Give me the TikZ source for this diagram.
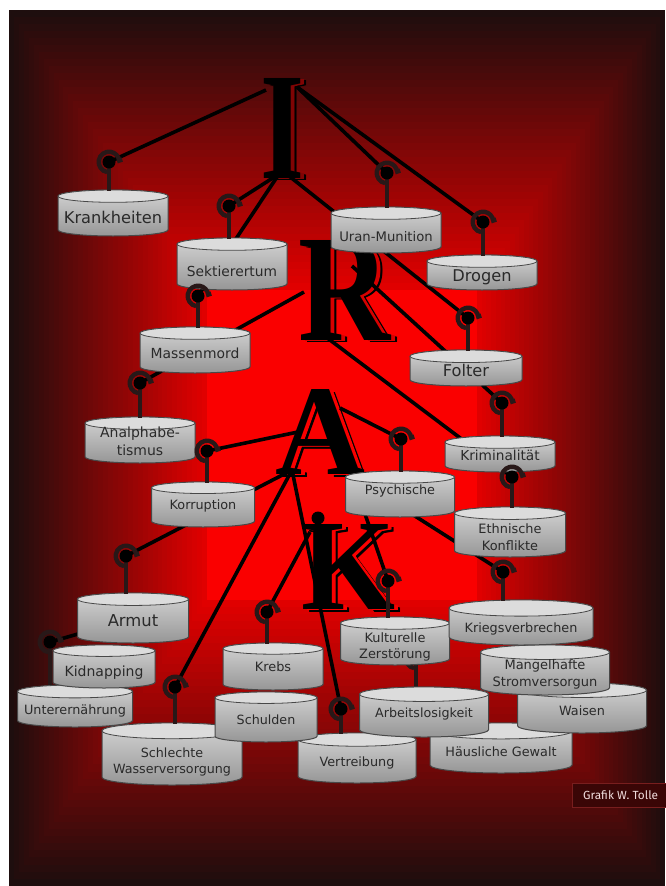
\documentclass[tikz,border=0pt]{standalone}
\usepackage{fontspec}
\setmainfont{DejaVu Sans}
\newfontfamily\letterfont{Liberation Serif}
\newfontfamily\creditfont{Fira Sans}
\usepackage{graphicx}
\usetikzlibrary{fadings}
\pgfdeclarefading{fadeI}{\color{pgftransparent!0}\resizebox{44pt}{100pt}{\letterfont\bfseries I}}
\pgfdeclarefading{fadeR}{\color{pgftransparent!0}\resizebox{92pt}{100pt}{\letterfont\bfseries R}}
\pgfdeclarefading{fadeA}{\color{pgftransparent!0}\resizebox{90pt}{85pt}{\letterfont\bfseries A}}
\pgfdeclarefading{fadeK}{\color{pgftransparent!0}\resizebox{94pt}{85pt}{\letterfont\bfseries K}}
\definecolor{knobdark}{RGB}{40,24,24}
\definecolor{cyledge}{RGB}{72,72,72}
\definecolor{cyltxt}{RGB}{42,42,42}
\definecolor{cyltopc}{RGB}{212,212,212}
\definecolor{cylbotc}{RGB}{150,150,150}
\definecolor{cyllid}{RGB}{220,220,220}
\definecolor{centerred}{RGB}{250,0,0}
\definecolor{shadowI}{RGB}{128,4,4}
\definecolor{shadowR}{RGB}{215,0,0}
\definecolor{shadowA}{RGB}{250,0,0}
\definecolor{creditfill}{RGB}{58,6,6}
\definecolor{creditedge}{RGB}{120,30,30}
\definecolor{credittext}{RGB}{240,220,220}
\tikzset{
  conn/.style={line width=3.6pt, draw=black},
  knobstem/.style={line width=4.6pt, draw=knobdark},
  knobring/.style={line width=4.4pt, draw=knobdark},
  cylbody/.style={top color=cyltopc, bottom color=cylbotc, draw=cyledge, line width=1pt},
  cyltop/.style={fill=cyllid, draw=cyledge, line width=0.8pt},
  cyltext/.style={text=cyltxt, align=center, inner sep=0pt},
  credit/.style={text=credittext, font=\creditfont\fontsize{11.8}{13}\selectfont, inner sep=0pt, anchor=west},
  creditbox/.style={fill=creditfill, draw=creditedge, line width=0.8pt}
}
\newcommand\cyl[8]{%
  \pgfmathsetmacro\cylxa{#2-#5/2}%
  \pgfmathsetmacro\cylxb{#2+#5/2}%
  \pgfmathsetmacro\cylrx{#5/2}%
  \pgfmathsetmacro\cylry{0.056*#5}%
  \pgfmathsetmacro\cylya{#3+\cylry}%
  \pgfmathsetmacro\cylyb{#4-\cylry}%
  \pgfmathsetmacro\cylty{(#3+2*\cylry+#4)/2+#8}%
  \pgfmathsetmacro\cylbs{#6*1.28}%
  \path[cylbody] (\cylxa,\cylya) -- (\cylxa,\cylyb) arc[start angle=180,end angle=0,x radius=\cylrx,y radius=\cylry] -- (\cylxb,\cylya) arc[start angle=0,end angle=-180,x radius=\cylrx,y radius=\cylry] -- cycle;
  \path[cyltop] (#2,\cylya) ellipse[x radius=\cylrx,y radius=\cylry];
  \node[cyltext,font=\fontsize{#6}{\cylbs}\selectfont] (#1) at (#2,\cylty) {#7};
}
\newcommand\knob[2]{%
  \draw[knobstem] (#1) -- ++(0,#2);
  \draw[knobring] (#1) ++(100:10.3) arc[start angle=100,end angle=352,radius=10.3] -- ++(3,-1);
  \fill[black] (#1) circle[radius=6.5];
}
% #1 name, #2 cx, #3 cy, #4 w, #5 h, #6 char, #7 shadow colour, #8 fading
\newcommand\bigletter[8]{%
  \fill[fill=black, path fading=#8, fit fading=false, fading transform={shift={(#2+5.5,#3+2.5)}}]
    (#2+5.5-#4/2-2,#3+2.5-#5/2-2) rectangle (#2+5.5+#4/2+2,#3+2.5+#5/2+2);
  \fill[fill=#7, path fading=#8, fit fading=false, fading transform={shift={(#2+4,#3+1.2)}}]
    (#2+4-#4/2-2,#3+1.2-#5/2-2) rectangle (#2+4+#4/2+2,#3+1.2+#5/2+2);
  \node[inner sep=0pt,text=black] (#1) at (#2,#3) {\resizebox{#4pt}{#5pt}{\letterfont\bfseries #6}};
}
\begin{document}
\begin{tikzpicture}[x=1pt,y=-1pt]
\useasboundingbox (0,0) rectangle (665,886);
\fill[white] (0,0) rectangle (665,886);
% background gradient
\foreach \i in {0,...,39}{
  \pgfmathsetmacro\bgt{\i/40}
  \pgfmathsetmacro\bgxa{9+198*\bgt}
  \pgfmathsetmacro\bgya{10+280*\bgt}
  \pgfmathsetmacro\bgxb{665-188*\bgt}
  \pgfmathsetmacro\bgyb{886-286*\bgt}
  \pgfmathtruncatemacro\bgr{2.55*(12+78*\bgt)}
  \pgfmathtruncatemacro\bgg{14*(1-\bgt)}
  \definecolor{bgc}{RGB}{\bgr,\bgg,\bgg}
  \fill[bgc] (\bgxa,\bgya) rectangle (\bgxb,\bgyb);
}
\fill[centerred] (207,290) rectangle (477,600);
% big letters
\bigletter{I}{283}{128}{44}{100}{I}{shadowI}{fadeI}
\bigletter{R}{345}{290}{92}{100}{R}{shadowR}{fadeR}
\bigletter{A}{321}{432}{90}{85}{A}{shadowA}{fadeA}
\bigletter{K}{349}{567}{94}{85}{K}{shadowA}{fadeK}
\fill[black] (318,518) circle[radius=6.5];
% letter anchor points
\coordinate (Itl) at (266,90);
\coordinate (Itr) at (297,87);
\coordinate (Ib) at (279,174);
\coordinate (Ibr) at (289,176);
\coordinate (Rl) at (304,292);
\coordinate (Rb) at (322,334);
\coordinate (Rbowl) at (352,266);
\coordinate (Atr) at (340,408);
\coordinate (Al) at (298,432);
\coordinate (Abl) at (292,470);
\coordinate (Ar) at (352,476);
\coordinate (Ktl) at (310,532);
% knob points
\coordinate (kKrank) at (109,162);
\coordinate (kSekt) at (229,206);
\coordinate (kUran) at (387,173);
\coordinate (kDrog) at (483,222);
\coordinate (kMass) at (198,296);
\coordinate (kFolt) at (468,318);
\coordinate (kAnal) at (140,383);
\coordinate (kKrim) at (502,403);
\coordinate (kKorr) at (207,451);
\coordinate (kPsych) at (401,439);
\coordinate (kEthn) at (512,477);
\coordinate (kArmut) at (126,556);
\coordinate (kKrieg) at (503,572);
\coordinate (kKrebs) at (267,612);
\coordinate (kKult) at (388,581);
\coordinate (kVert) at (341,709);
\coordinate (kSchl) at (175,687);
\coordinate (kHidA) at (50,642);
\coordinate (kHidB) at (416,658);
\coordinate (hidAend) at (120,622);
% connectors
\draw[conn] (Itl) -- (kKrank);
\draw[conn] (Itr) -- (kUran);
\draw[conn] (Itr) -- (kDrog);
\draw[conn] (Ib) -- (kSekt);
\draw[conn] (Ib) -- (kMass);
\draw[conn] (Ibr) -- (kFolt);
\draw[conn] (Rl) -- (kAnal);
\draw[conn] (Rb) -- (kEthn);
\draw[conn] (Rbowl) -- (kKrim);
\draw[conn] (Atr) -- (kPsych);
\draw[conn] (Al) -- (kKorr);
\draw[conn] (Abl) -- (kArmut);
\draw[conn] (Abl) -- (kSchl);
\draw[conn] (Abl) -- (kVert);
\draw[conn] (Ar) -- (kKult);
\draw[conn] (Ar) -- (kKrieg);
\draw[conn] (Ktl) -- (kKrebs);
\draw[conn] (kHidA) -- (hidAend);
% hidden knobs
\knob{kHidA}{48}
\knob{kHidB}{31}
% cylinders (back to front)
\cyl{vert}{357}{733}{783}{118}{12.8}{Vertreibung}{-2}
\cyl{schl}{172}{723}{785}{140}{12.7}{Schlechte\\Wasserversorgung}{0}
\cyl{haeus}{501}{723}{773}{142}{12.8}{Häusliche Gewalt}{-4}
\cyl{schuld}{266}{692}{742}{102}{12.7}{Schulden}{-3}
\cyl{arb}{424}{687}{737}{129}{12.7}{Arbeitslosigkeit}{-5}
\cyl{unter}{75}{685}{727}{115}{12.8}{Unterernährung}{-1}
\cyl{waisen}{582}{683}{733}{129}{12.8}{Waisen}{-5}
\cyl{kidn}{104}{645}{688}{102}{14}{Kidnapping}{0}
\cyl{mang}{545}{645}{695}{129}{13}{Mangelhafte\\Stromversorgun}{-3}
\cyl{krebs}{273}{643}{690}{100}{12.9}{Krebs}{-5}
\cyl{kult}{395}{617}{665}{109}{12.9}{Kulturelle\\Zerstörung}{0}
\cyl{krieg}{521}{600}{645}{144}{12.8}{Kriegsverbrechen}{-2}
\cyl{armut}{133}{593}{643}{111}{16.4}{Armut}{-4}
\cyl{ethn}{510}{507}{557}{111}{12.9}{Ethnische\\Konflikte}{-1}
\cyl{korr}{203}{482}{527}{103}{12.8}{Korruption}{-4}
\cyl{psych}{400}{471}{517}{109}{12.8}{Psychische}{-9}
\cyl{krim}{500}{436}{472}{110}{13.7}{Kriminalität}{-5}
\cyl{anal}{140}{417}{463}{110}{14}{Analphabe-\\tismus}{-5}
\cyl{folt}{466}{350}{386}{112}{16.2}{Folter}{-4}
\cyl{mass}{195}{327}{373}{110}{13.9}{Massenmord}{-3}
\cyl{drog}{482}{255}{290}{110}{16.2}{Drogen}{-1}
\cyl{sekt}{232}{238}{290}{110}{13.8}{Sektierertum}{1}
\cyl{uran}{386}{207}{253}{110}{13.2}{Uran-Munition}{0}
\cyl{krank}{113}{190}{236}{110}{16.2}{Krankheiten}{-2}
% knobs
\knob{kKrank}{29}
\knob{kSekt}{33}
\knob{kUran}{35}
\knob{kDrog}{34}
\knob{kMass}{32}
\knob{kFolt}{33}
\knob{kAnal}{35}
\knob{kKrim}{34}
\knob{kKorr}{32}
\knob{kPsych}{33}
\knob{kEthn}{31}
\knob{kArmut}{38}
\knob{kKrieg}{29}
\knob{kKrebs}{32}
\knob{kKult}{37}
\knob{kVert}{25}
\knob{kSchl}{37}
% credit
\path[creditbox] (572,783) rectangle (668,807);
\node[credit] (credit) at (583,795.5) {Grafik W. Tolle};
\end{tikzpicture}
\end{document}
